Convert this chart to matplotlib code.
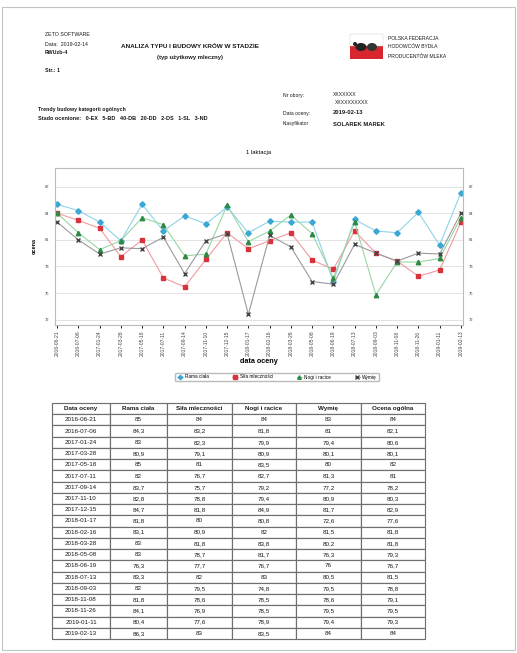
import numpy as np
import matplotlib
matplotlib.use('Agg')
from matplotlib import pyplot as plt
from matplotlib.patches import Rectangle, Ellipse

plt.rcParams['font.family'] = ['Liberation Sans', 'DejaVu Sans']

# data
dates = ['2016-06-21', '2016-07-06', '2017-01-24', '2017-03-28', '2017-05-18',
         '2017-07-11', '2017-09-14', '2017-11-10', '2017-12-15', '2018-01-17',
         '2018-02-16', '2018-03-28', '2018-05-08', '2018-06-19', '2018-07-13',
         '2018-09-03', '2018-11-08', '2018-11-26', '2019-01-11', '2019-02-13']
rama = [85, 84.3, 83, 80.9, 85, 82, 83.7, 82.8, 84.7, 81.8,
        83.1, 83, 83, 76.3, 83.3, 82, 81.8, 84.1, 80.4, 86.3]
sila = [84, 83.2, 82.3, 79.1, 81, 76.7, 75.7, 78.8, 81.8, 80,
        80.9, 81.8, 78.7, 77.7, 82, 79.5, 78.6, 76.9, 77.6, 83]
nogi = [84, 81.8, 79.9, 80.9, 83.5, 82.7, 79.2, 79.4, 84.9, 80.8,
        82, 83.8, 81.7, 76.7, 83, 74.8, 78.5, 78.5, 78.9, 83.5]
wymie = [83, 81, 79.4, 80.1, 80, 81.3, 77.2, 80.9, 81.7, 72.6,
         81.5, 80.2, 76.3, 76, 80.5, 79.5, 78.6, 79.5, 79.4, 84]
ogolna = [84, 82.1, 80.6, 80.1, 82, 81, 78.2, 80.3, 82.9, 77.6,
          81.8, 81.8, 79.3, 76.7, 81.5, 78.8, 79.1, 79.5, 79.3, 84]
series_names = ['Rama ciała', 'Siła mleczności', 'Nogi i racice', 'Wymię']
col_names = ['Data oceny', 'Rama ciała', 'Siła mleczności', 'Nogi i racice', 'Wymię', 'Ocena ogólna']
y_ticks = [72, 75, 78, 81, 84, 87]

W, H = 517, 653
fig = plt.figure(figsize=(W / 100, H / 100), dpi=100)


def px(x, y):
    return x / W, 1 - y / H


def txt(x, y, s, size=4, bold=False, ha='left'):
    fig.text(*px(x, y), s, fontsize=size, fontweight='bold' if bold else 'normal',
             ha=ha, va='center', color='#1a1a1a')


# page frame
fig.add_artist(Rectangle(px(2, 650), 513 / W, 643 / H, transform=fig.transFigure,
                         fill=False, ec='#c4c4c4', lw=0.8))

# header
txt(45, 35, 'ZETO SOFTWARE', 3.8)
txt(45, 44, 'Data:  2019-02-14', 3.8)
txt(45, 53, 'RWUzb-4', 3.8, True)
txt(45, 71, 'Str.: 1', 3.8, True)
txt(190, 46, 'ANALIZA TYPU I BUDOWY KRÓW W STADZIE', 4.6, True, 'center')
txt(190, 57, '(typ użytkowy mleczny)', 4.2, True, 'center')

# logo
fig.add_artist(Rectangle(px(350, 59), 33 / W, 13 / H, transform=fig.transFigure,
                         fc='#d7262d', ec='none'))
fig.add_artist(Rectangle(px(350, 46), 33 / W, 12 / H, transform=fig.transFigure,
                         fc='white', ec='#cccccc', lw=0.3))
fig.add_artist(Ellipse(px(361, 47), 11 / W, 8 / H, transform=fig.transFigure, fc='#222222'))
fig.add_artist(Ellipse(px(372, 47), 10 / W, 8 / H, transform=fig.transFigure, fc='#333333'))
fig.add_artist(Ellipse(px(355, 44), 4 / W, 4 / H, transform=fig.transFigure, fc='#222222'))
txt(388, 38, 'POLSKA FEDERACJA', 3.6)
txt(388, 47, 'HODOWCÓW BYDŁA', 3.6)
txt(388, 56, 'PRODUCENTÓW MLEKA', 3.6)

txt(38, 109, 'Trendy budowy kategorii ogólnych', 3.8, True)
txt(38, 119, 'Stado ocenione:   0-EX   5-BD   40-DB   20-DD   2-DS   1-SL   3-ND', 4.0, True)
txt(283, 95, 'Nr obory:', 3.6)
txt(333, 94, 'XXXXXXX', 3.6)
txt(335, 102, 'XXXXXXXXXX', 3.6)
txt(283, 113, 'Data oceny:', 3.6)
txt(333, 113, '2019-02-13', 4.2, True)
txt(283, 124, 'Klasyfikator', 3.6)
txt(333, 124, 'SOLAREK MAREK', 4.2, True)

# chart
ax = fig.add_axes([55 / W, 1 - 325 / H, 408 / W, 157 / H])
x = np.arange(len(dates))
styles = [
    dict(color='#8fd3e8', marker='D', mfc='#3ba7d4', mec='#3ba7d4', ms=2.8),
    dict(color='#f29aa0', marker='s', mfc='#d8333c', mec='#d8333c', ms=3.0),
    dict(color='#98d6a4', marker='^', mfc='#2e8a43', mec='#2e8a43', ms=3.2),
    dict(color='#9a9a9a', marker='x', mfc='#444444', mec='#444444', ms=3.2, mew=1.0),
]
for vals, name, st in zip([rama, sila, nogi, wymie], series_names, styles):
    ax.plot(x, vals, lw=0.8, label=name, **st)

ax.set_xlim(-0.1, len(dates) - 0.9)
ax.set_ylim(71.4, 89.1)
ax.set_yticks(y_ticks)
ax.set_yticklabels([str(t) for t in y_ticks], fontsize=3)
ax.tick_params(axis='y', length=0, pad=4, labelright=True, labelcolor='#444444')
ax.set_xticks(x)
ax.set_xticklabels(dates, rotation=90, fontsize=3.6, color='#444444')
ax.tick_params(axis='x', length=2.5, width=0.6, pad=1.5)
ax.grid(axis='y', color='#dddddd', lw=0.6)
ax.set_axisbelow(True)
for s in ax.spines.values():
    s.set_color('#bbbbbb')
    s.set_linewidth(0.8)
ax.set_ylabel('ocena', fontsize=4, fontweight='bold', labelpad=6)
ax.set_xlabel('data oceny', fontsize=5.2, fontweight='bold', labelpad=1)
ax.set_title('1 laktacja', fontsize=4.2, pad=10)
fig.legend(loc='center', bbox_to_anchor=px(277, 377), ncol=4, fontsize=3.4,
           frameon=True, edgecolor='#aaaaaa', fancybox=True, handlelength=1.2,
           columnspacing=5.0, borderpad=0.35, handletextpad=0.4, markerscale=0.8)

# table
tax = fig.add_axes([52 / W, 1 - 639 / H, 373 / W, 236 / H])
tax.axis('off')
fmt = lambda v: ('%g' % v).replace('.', ',')
rows = [[d, fmt(a), fmt(b), fmt(c), fmt(e), fmt(f)]
        for d, a, b, c, e, f in zip(dates, rama, sila, nogi, wymie, ogolna)]
tbl = tax.table(cellText=rows, colLabels=col_names, cellLoc='center',
                bbox=[0, 0, 1, 1], colWidths=[58, 57, 65, 64, 65, 64])
tbl.auto_set_font_size(False)
for (r, c), cell in tbl.get_celld().items():
    cell.set_edgecolor('#6f6f6f')
    cell.set_linewidth(0.85)
    cell.get_text().set_fontsize(4.5)
    cell.get_text().set_color('#1a1a1a')
    if r == 0:
        cell.get_text().set_fontweight('bold')

fig.savefig('out.png', dpi=100)
